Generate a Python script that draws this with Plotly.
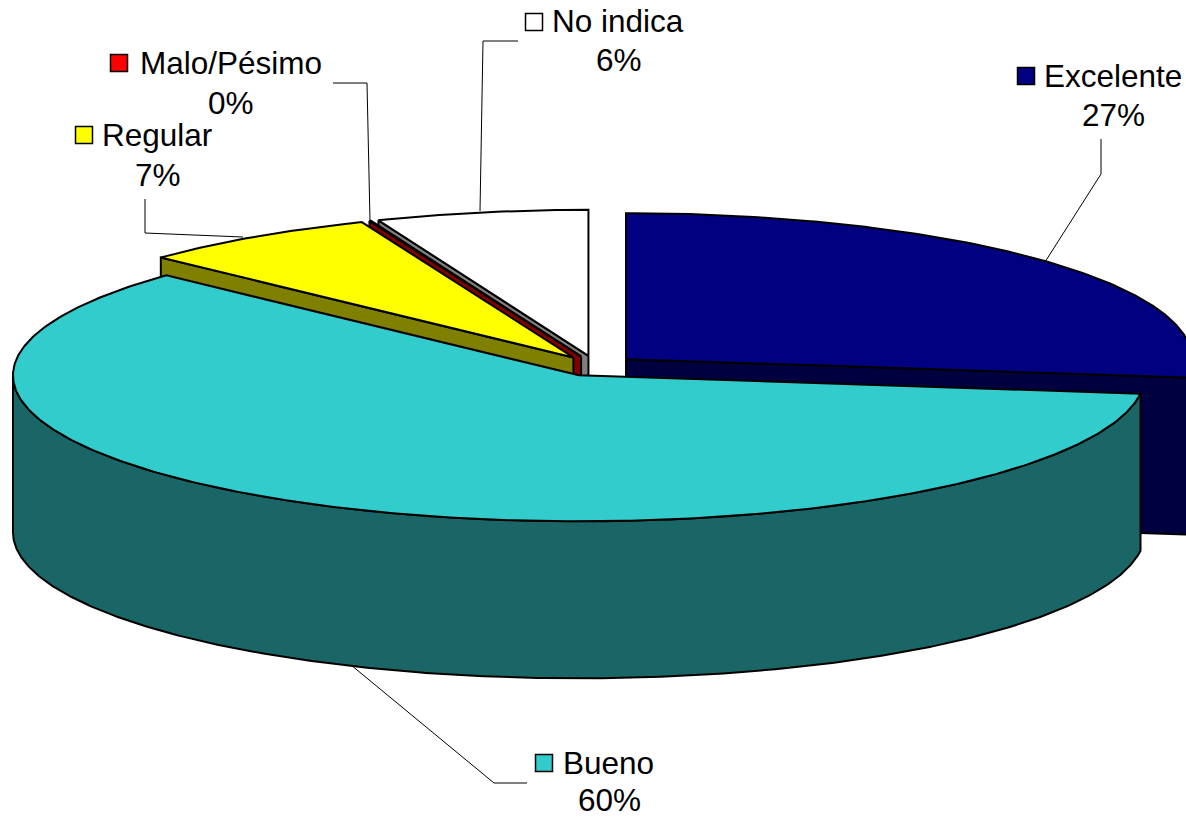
import numpy as np
import plotly.graph_objects as go

# ---- data ----
categories = ["Excelente", "Bueno", "Regular", "Malo/Pésimo", "No indica"]
values = [27.0, 60.0, 6.9, 0.05, 6.05]

# ---- styles ----
top_colors = ["#000080", "#33CCCC", "#FFFF00", "#FF0000", "#FFFFFF"]
wall_colors = ["#000040", "#1A6666", "#808000", "#800000", "#808080"]
draw_order = [0, 4, 3, 2, 1]

# ---- projection of the 3D pie onto the axes ----
CX, CY = 596, 366
RX, RY = 566, 146
DEPTH = 157
EXPLODE = 40
FONT = dict(family="Liberation Sans, Arial, sans-serif", size=31.5, color="black")
EDGE = dict(color="black", width=2)

label_text_pos = {
    "Excelente": (1113, 76, 1113, 115, 1026, 76),
    "Bueno": (608, 763, 609, 800, 544, 763),
    "Regular": (157, 135, 158, 175, 84, 135),
    "Malo/Pésimo": (231, 63, 231, 103, 119, 63),
    "No indica": (618, 21, 619, 60, 534, 22),
}
leaders = [
    "M1101,139 L1101,174 L1045,262",
    "M527,783 L494,783 L351,665",
    "M145,199 L145,233 L243,237",
    "M333,83 L367,83 L370,221",
    "M518,41 L483,41 L480,211",
]


def rim(cx, cy, a0, a1):
    a = np.radians(np.arange(a0, a1, 0.5).tolist() + [a1])
    return cx + RX * np.sin(a), cy - RY * np.cos(a)


def poly(x, y, color):
    return go.Scatter(
        x=list(x) + [x[0]], y=list(y) + [y[0]], mode="lines", fill="toself",
        fillcolor=color, line=EDGE, hoverinfo="skip", showlegend=False,
    )


total = sum(values)
edges = np.cumsum([0] + values) / total * 360
fig = go.Figure()

for i in draw_order:
    a0, a1 = edges[i], edges[i + 1]
    mid = np.radians((a0 + a1) / 2)
    cx = CX + EXPLODE * np.sin(mid)
    cy = CY - EXPLODE * np.cos(mid) * RY / RX
    wall = wall_colors[i]
    # cut faces that turn toward the viewer
    if a0 >= 180:
        x0, y0 = rim(cx, cy, a0, a0)
        fig.add_trace(poly([cx, x0[0], x0[0], cx], [cy, y0[0], y0[0] + DEPTH, cy + DEPTH], wall))
    if a1 <= 180:
        x1, y1 = rim(cx, cy, a1, a1)
        fig.add_trace(poly([cx, x1[0], x1[0], cx], [cy, y1[0], y1[0] + DEPTH, cy + DEPTH], wall))
    # outer rim wall, front half only
    w0, w1 = max(a0, 90), min(a1, 270)
    if w1 > w0:
        xr, yr = rim(cx, cy, w0, w1)
        fig.add_trace(poly(np.r_[xr, xr[::-1]], np.r_[yr, yr[::-1] + DEPTH], wall))
    # top face
    xt, yt = rim(cx, cy, a0, a1)
    fig.add_trace(poly(np.r_[cx, xt], np.r_[cy, yt], top_colors[i]))

# legend keys inside the data labels
for i, name in enumerate(categories):
    tx, ty, px, py, kx, ky = label_text_pos[name]
    fig.add_trace(go.Scatter(
        x=[kx], y=[ky], mode="markers", hoverinfo="skip", showlegend=False,
        marker=dict(symbol="square", size=17, color=top_colors[i],
                    line=dict(color="black", width=1.5)),
    ))
    fig.add_annotation(x=tx, y=ty, text=name, showarrow=False, font=FONT,
                       xanchor="center", yanchor="middle")
    fig.add_annotation(x=px, y=py, text=f"{round(values[i])}%", showarrow=False, font=FONT,
                       xanchor="center", yanchor="middle")

for path in leaders:
    fig.add_shape(type="path", path=path, xref="x", yref="y", layer="above",
                  line=dict(color="black", width=1))

fig.update_layout(
    width=1186, height=818, margin=dict(l=0, r=0, t=0, b=0),
    paper_bgcolor="white", plot_bgcolor="white", showlegend=False,
    xaxis=dict(range=[0, 1186], visible=False, fixedrange=True),
    yaxis=dict(range=[818, 0], visible=False, fixedrange=True),
)
fig.write_html("out.html", config={"displayModeBar": False},
               post_script="document.body.style.margin='0';document.documentElement.style.overflow='hidden';")
